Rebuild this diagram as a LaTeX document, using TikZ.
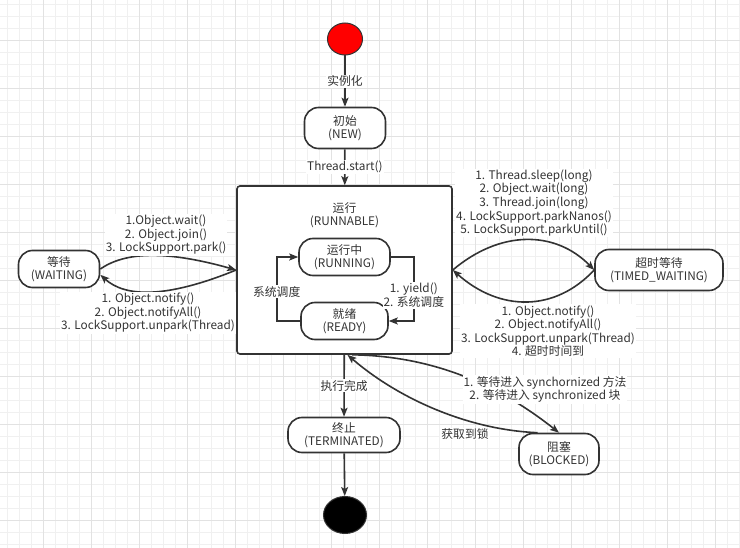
\documentclass[tikz,border=0pt]{standalone}
\usepackage{fontspec}
\setmainfont{Noto Sans CJK SC}
\usepackage{tikz}
\usetikzlibrary{arrows.meta, positioning, calc, shapes.geometric}
\definecolor{linegray}{HTML}{333333}
\definecolor{textgray}{HTML}{333333}
\definecolor{gridminor}{HTML}{F0F0F0}
\definecolor{gridmajor}{HTML}{E2E2E2}

\begin{document}
\begin{tikzpicture}[x=1pt, y=-1pt, >={Stealth[length=9pt, width=7pt, inset=2pt]},
  font=\fontsize{11.8}{12.6}\selectfont,
  state/.style={draw=linegray, line width=1.6pt, rounded corners=14pt, fill=white,
    align=center, text=textgray, inner sep=0pt, minimum height=37pt},
  flow/.style={draw=linegray, line width=1.6pt, ->},
  lbl/.style={fill=white, inner sep=1pt, align=center, text=textgray,
    font=\fontsize{11.8}{11.9}\selectfont}]
  % Canvas and grid (12px minor, 48px major)
  \useasboundingbox (0,0) rectangle (740,548);
  \fill[white] (0,0) rectangle (740,548);
  \foreach \k in {0,...,61} \draw[gridminor, line width=0.9pt] ({7.3+12*\k},0) -- ({7.3+12*\k},548);
  \foreach \k in {0,...,45} \draw[gridminor, line width=0.9pt] (0,{4.3+12*\k}) -- (740,{4.3+12*\k});
  \foreach \k in {0,...,14} \draw[gridmajor, line width=0.9pt] ({43.3+48*\k},0) -- ({43.3+48*\k},548);
  \foreach \k in {0,...,10} \draw[gridmajor, line width=0.9pt] (0,{40.3+48*\k}) -- (740,{40.3+48*\k});

  % States
  \node[ellipse, draw=linegray, line width=1pt, fill=red, minimum width=35pt, minimum height=32pt, inner sep=0pt] (start) at (345,39) {};
  \node[state, minimum width=81pt, minimum height=41pt] (new) at (345,128) {初始\\(NEW)};
  \node[draw=linegray, line width=1.6pt, rounded corners=3pt, fill=white, minimum width=215pt, minimum height=168pt, inner sep=0pt] (runnable) at (344.5,270) {};
  \node[align=center, text=textgray] (runtitle) at (344.5,215) {运行\\(RUNNABLE)};
  \node[state, minimum width=91pt] (running) at (344.5,257) {运行中\\(RUNNING)};
  \node[state, minimum width=87pt] (ready) at (344.5,321) {就绪\\(READY)};
  \node[state, minimum width=81pt] (waiting) at (59,269) {等待\\(WAITING)};
  \node[state, minimum width=128pt, minimum height=41pt] (timed) at (659,270) {超时等待\\(TIMED\_WAITING)};
  \node[state, minimum width=112pt, minimum height=35pt] (term) at (344,435) {终止\\(TERMINATED)};
  \node[state, minimum width=80pt, minimum height=41pt] (blocked) at (559,454) {阻塞\\(BLOCKED)};
  \node[ellipse, draw=linegray, line width=1pt, fill=black, minimum width=43pt, minimum height=37pt, inner sep=0pt] (stop) at (345,515) {};

  % Main line
  \draw[flow] (start) -- node[lbl] {实例化} (new);
  \draw[flow] (new) -- node[lbl] {Thread.start()} (runnable);
  \draw[flow] (runnable) -- node[lbl] {执行完成} (term);
  \draw[flow] (term) -- (stop);

  % Inside RUNNABLE
  \draw[flow] (ready.west) -- ++(-23.5,0) |- node[lbl, pos=0.23] {系统调度} (running.west);
  \draw[flow] (running.east) -- ++(23,0) |- node[lbl, pos=0.3] {1. yield()\\2. 系统调度} (ready.east);

  % WAITING
  \draw[flow] (waiting.east) .. controls (125,252) and (165,250) .. (runnable.west);
  \draw[flow] (runnable.west) .. controls (165,299) and (125,297) .. (waiting.-8);
  \node[lbl] (towait) at (166,235) {1.Object.wait()\\2. Object.join()\\3. LockSupport.park()};
  \node[lbl] (fromwait) at (148,313) {1. Object.notify()\\2. Object.notifyAll()\\3. LockSupport.unpark(Thread)};

  % TIMED_WAITING
  \draw[flow] (runnable.east) .. controls (500,230) and (555,230) .. (timed.west);
  \draw[flow] (timed.west) .. controls (555,312) and (500,312) .. (runnable.east);
  \node[lbl] (totimed) at (534,203) {1. Thread.sleep(long)\\2. Object.wait(long)\\3. Thread.join(long)\\4. LockSupport.parkNanos()\\5. LockSupport.parkUntil()};
  \node[lbl] (fromtimed) at (548,331) {1. Object.notify()\\2. Object.notifyAll()\\3. LockSupport.unpark(Thread)\\4. 超时时间到};

  % BLOCKED
  \draw[flow] (runnable.-85) .. controls (440,356) and (505,390) .. (blocked.north);
  \draw[flow] (blocked.135) .. controls (470,430) and (400,400) .. (runnable.-88);
  \node[lbl] (toblock) at (545,389.5) {1. 等待进入 synchornized 方法\\2. 等待进入 synchronized 块};
  \node[lbl] (fromblock) at (465,434) {获取到锁};
\end{tikzpicture}
\end{document}
